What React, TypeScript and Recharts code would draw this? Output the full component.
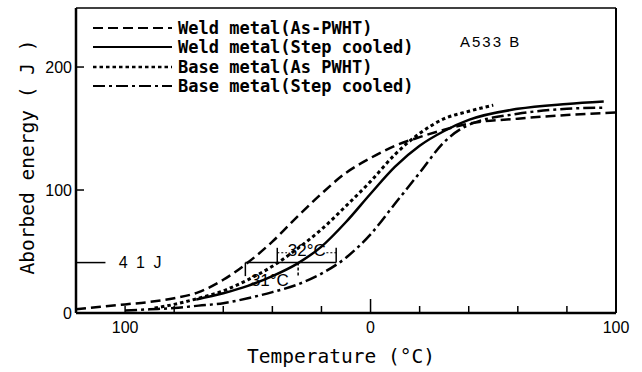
import React from 'react';
import {
  LineChart,
  Line,
  XAxis,
  YAxis,
  Legend,
  ReferenceLine,
  ReferenceDot
} from 'recharts';

// Weld metal (As-PWHT)
const weldAsTemp = [-120, -110, -100, -90, -80, -70, -60, -50, -40, -30, -20, -10, 0, 10, 20, 30, 40, 60, 80, 100];
const weldAsEnergy = [3, 5, 7, 9, 12, 17, 27, 41, 58, 78, 97, 114, 126, 136, 143, 149, 154, 158, 161, 163];

// Weld metal (Step cooled)
const weldStepTemp = [-71, -60, -50, -40, -30, -20, -10, 0, 10, 20, 30, 40, 60, 80, 95];
const weldStepEnergy = [11, 16, 22, 30, 40, 54, 74, 97, 119, 136, 148, 157, 166, 170, 172];

// Base metal (As PWHT)
const baseAsTemp = [-88, -80, -70, -60, -50, -40, -30, -20, -10, 0, 10, 20, 30, 40, 50];
const baseAsEnergy = [4, 7, 12, 18, 27, 38, 52, 68, 87, 107, 129, 146, 158, 164, 169];

// Base metal (Step cooled)
const baseStepTemp = [-100, -90, -80, -70, -60, -50, -40, -30, -20, -10, 0, 10, 20, 30, 40, 60, 80, 95];
const baseStepEnergy = [2, 3, 4, 6, 8, 12, 17, 23, 32, 45, 64, 89, 114, 139, 153, 162, 166, 167];

const xTicks = [-100, -80, -60, -40, -20, 0, 20, 40, 60, 80, 100];
const xLabelTicks = [-100, 0, 100];
const yTicks = [0, 100, 200];

const toRows = (t: number[], e: number[]) => t.map((v, i) => ({ t: v, e: e[i] }));

const series = [
  { name: 'Weld metal(As-PWHT)', data: toRows(weldAsTemp, weldAsEnergy), dash: '10 5', width: 2.5 },
  { name: 'Weld metal(Step cooled)', data: toRows(weldStepTemp, weldStepEnergy), dash: undefined, width: 2.5 },
  { name: 'Base metal(As PWHT)', data: toRows(baseAsTemp, baseAsEnergy), dash: '3.5 3', width: 3 },
  { name: 'Base metal(Step cooled)', data: toRows(baseStepTemp, baseStepEnergy), dash: '12 4 3 4', width: 2.5 }
];

const monoFont = '"DejaVu Sans Mono", "Liberation Mono", monospace';
const sansFont = '"Liberation Sans", Arial, sans-serif';

const XTick = (props: any) => {
  const { x, y, payload } = props;
  const v = payload.value;
  const len = v === 0 ? 14 : 7;
  return (
    <g>
      {v !== 100 && <line x1={x} x2={x} y1={y} y2={y - len} stroke="#000" strokeWidth={1.5} />}
      {xLabelTicks.includes(v) && (
        <text x={x} y={y + 20} textAnchor="middle" fontSize={16} fontFamily={sansFont} fill="#000">
          {Math.abs(v)}
        </text>
      )}
    </g>
  );
};

const YTick = (props: any) => {
  const { x, y, payload } = props;
  return (
    <g>
      {payload.value !== 0 && <line x1={x} x2={x + 8} y1={y} y2={y} stroke="#000" strokeWidth={1.5} />}
      <text x={x - 4} y={y + 6} textAnchor="end" fontSize={16} fontFamily={sansFont} fill="#000">
        {payload.value}
      </text>
    </g>
  );
};

const renderLegend = () => (
  <div style={{ fontFamily: monoFont, fontSize: 17, fontWeight: 'bold', color: '#000' }}>
    {series.map((s) => (
      <div key={s.name} style={{ display: 'flex', alignItems: 'center', height: 19.5, whiteSpace: 'nowrap' }}>
        <svg width={80} height={10}>
          <line x1={0} x2={79} y1={5} y2={5} stroke="#000" strokeWidth={s.width - 0.5} strokeDasharray={s.dash} />
        </svg>
        <span style={{ marginLeft: 5 }}>{s.name}</span>
      </div>
    ))}
  </div>
);

const annoLabel = (value: string, size = 16, spacing = 0) => ({
  value,
  position: 'center' as const,
  fill: '#000',
  fontSize: size,
  fontFamily: sansFont,
  letterSpacing: spacing
});

export default function App() {
  return (
    <div style={{ position: 'absolute', left: 0, top: 0, width: 642, height: 372, background: '#fff' }}>
      <LineChart width={642} height={372} margin={{ top: 8, right: 26, bottom: 29, left: 0 }}>
        <XAxis
          type="number"
          dataKey="t"
          domain={[-120, 100]}
          allowDataOverflow
          ticks={xTicks}
          tick={<XTick />}
          tickSize={0}
          tickMargin={0}
          height={30}
          axisLine={{ stroke: '#000', strokeWidth: 2.5 }}
        />
        <YAxis
          type="number"
          dataKey="e"
          domain={[0, 248]}
          allowDataOverflow
          ticks={yTicks}
          tick={<YTick />}
          tickSize={0}
          tickMargin={0}
          width={76}
          axisLine={{ stroke: '#000', strokeWidth: 2.5 }}
        />
        <ReferenceLine y={248} stroke="#000" strokeWidth={1.5} />
        <ReferenceLine x={100} stroke="#000" strokeWidth={2} />

        {/* 41 J marker */}
        <ReferenceLine segment={[{ x: -120, y: 41 }, { x: -108, y: 41 }]} stroke="#000" strokeWidth={1.5} />
        <ReferenceDot x={-93.5} y={41} r={0} fill="none" stroke="none" label={annoLabel('4 1 J', 16, 2)} />

        {/* transition temperature brackets */}
        <ReferenceLine segment={[{ x: -51, y: 41 }, { x: -14, y: 41 }]} stroke="#000" strokeWidth={1.5} />
        <ReferenceLine segment={[{ x: -51, y: 41 }, { x: -51, y: 30 }]} stroke="#000" strokeWidth={1.5} />
        <ReferenceLine segment={[{ x: -29.5, y: 41 }, { x: -29.5, y: 30 }]} stroke="#000" strokeWidth={1.5} strokeDasharray="3 2" />
        <ReferenceLine segment={[{ x: -38, y: 41 }, { x: -38, y: 53 }]} stroke="#000" strokeWidth={1.5} />
        <ReferenceLine segment={[{ x: -14, y: 41 }, { x: -14, y: 53 }]} stroke="#000" strokeWidth={1.5} />
        <ReferenceLine segment={[{ x: -38, y: 49 }, { x: -34, y: 49 }]} stroke="#000" strokeWidth={1.2} strokeDasharray="2 2" />
        <ReferenceLine segment={[{ x: -18, y: 49 }, { x: -14, y: 49 }]} stroke="#000" strokeWidth={1.2} strokeDasharray="2 2" />
        <ReferenceDot x={-26} y={51} r={0} fill="none" stroke="none" label={annoLabel('32°C', 17)} />
        <ReferenceDot x={-41} y={27} r={0} fill="none" stroke="none" label={annoLabel('31°C', 17)} />

        {series.map((s) => (
          <Line
            key={s.name}
            name={s.name}
            data={s.data}
            dataKey="e"
            type="monotone"
            stroke="#000"
            strokeWidth={s.width}
            strokeDasharray={s.dash}
            dot={false}
            activeDot={false}
            isAnimationActive={false}
          />
        ))}

        <Legend
          layout="vertical"
          align="center"
          verticalAlign="middle"
          wrapperStyle={{ position: 'absolute', left: 93, top: 18, width: 'auto', height: 'auto' }}
          content={renderLegend}
        />
      </LineChart>

      <div
        style={{
          position: 'absolute',
          left: 28,
          top: 157,
          transform: 'translate(-50%, -50%) rotate(-90deg)',
          whiteSpace: 'nowrap',
          fontFamily: monoFont,
          fontSize: 19.5,
          lineHeight: 1
        }}
      >
        Aborbed energy ( J )
      </div>
      <div
        style={{
          position: 'absolute',
          left: 341,
          top: 357,
          transform: 'translate(-50%, -50%)',
          whiteSpace: 'nowrap',
          fontFamily: monoFont,
          fontSize: 19.5,
          lineHeight: 1
        }}
      >
        Temperature (°C)
      </div>
      <div
        style={{
          position: 'absolute',
          left: 460,
          top: 41,
          transform: 'translateY(-50%)',
          whiteSpace: 'nowrap',
          fontFamily: sansFont,
          fontSize: 15,
          letterSpacing: 2,
          lineHeight: 1
        }}
      >
        A533 B
      </div>
    </div>
  );
}
